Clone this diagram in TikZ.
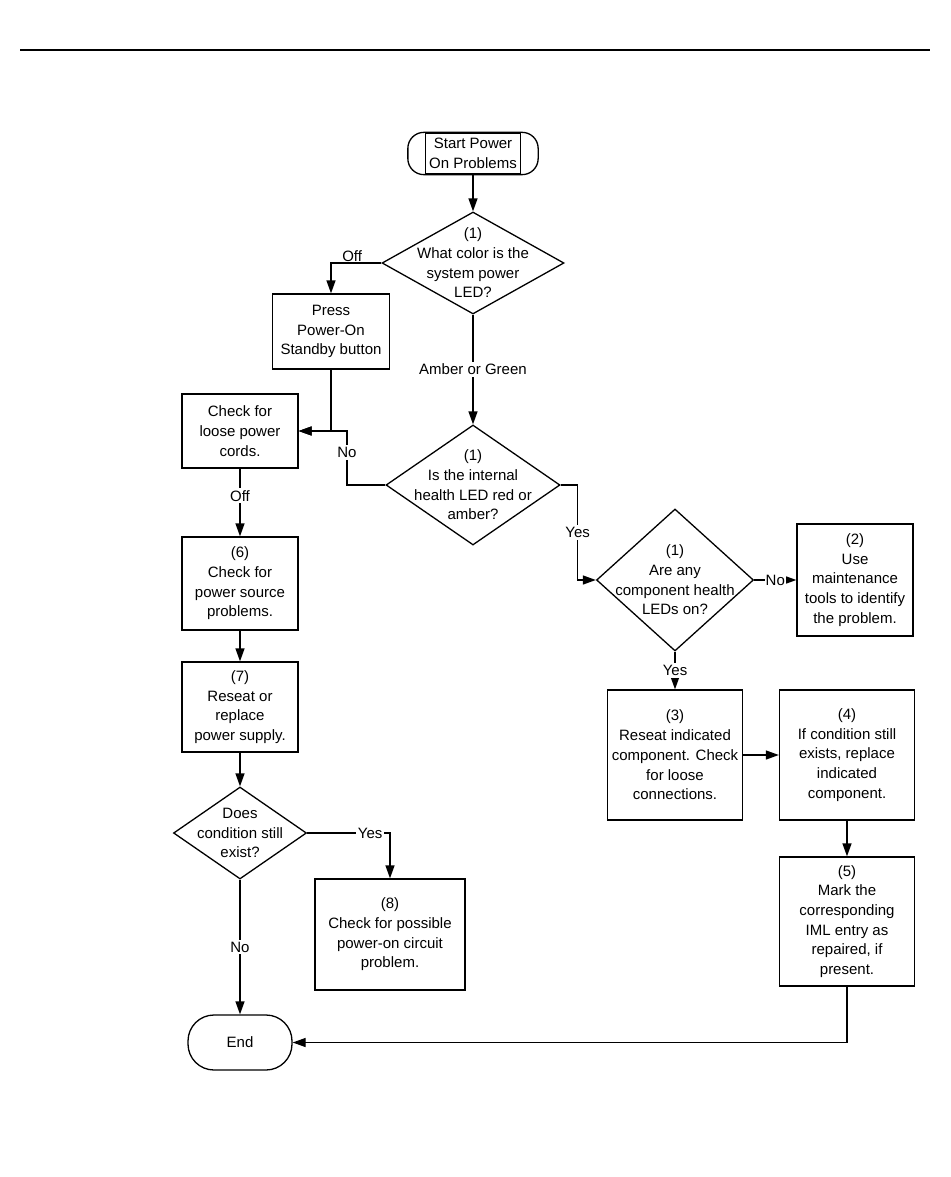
\documentclass[tikz,border=0pt]{standalone}
\usepackage{fontspec}
\setmainfont{Liberation Sans}
\usetikzlibrary{shapes.geometric,arrows.meta}

\begin{document}
\begin{tikzpicture}[x=1pt, y=-1pt,
		font=\fontsize{15}{19.7}\selectfont,
		box/.style={draw, line width=1.3pt, align=center, inner sep=0pt},
		decision/.style={draw, diamond, line width=1.3pt, inner sep=0pt},
		txt/.style={align=center},
		line/.style={line width=1.3pt},
		arr/.style={line width=1.3pt, -{Triangle[length=13pt,width=9pt]}},
		lbl/.style={fill=white, inner sep=2pt}]
		\useasboundingbox (0,0) rectangle (950,1177);
		\draw[line width=2pt] (20,50) -- (930,50);
		
		% start and first question
		\node[box, minimum width=95, minimum height=41] (start) at (473,153.5) {Start Power\\On Problems};
		\draw[line, rounded corners=16] ([xshift=-17]start.north west) rectangle ([xshift=17]start.south east);
		\node[decision, minimum width=182, minimum height=102,
			label={[txt]center:{(1)\\What color is the\\system power\\LED?}}] (q1) at (473,263) {};
		\node[box, minimum width=117, minimum height=75] (press) at (331,331.5) {Press\\Power-On\\Standby button};
		\node[decision, minimum width=174, minimum height=120,
			label={[txt]center:{(1)\\Is the internal\\health LED red or\\amber?}}] (q2) at (473,485) {};
		
		% left column
		\node[box, minimum width=116, minimum height=74] (cords) at (240,431) {Check for\\loose power\\cords.};
		\node[box, minimum width=116, minimum height=93] (source) at (240,583.5) {(6)\\Check for\\power source\\problems.};
		\node[box, minimum width=116, minimum height=90] (supply) at (240,707) {(7)\\Reseat or\\replace\\power supply.};
		\node[decision, minimum width=133, minimum height=92,
			label={[txt]center:{Does\\condition still\\exist?}}] (q4) at (240,833) {};
		\node[box, minimum width=150, minimum height=111] (circuit) at (390,934.5) {(8)\\Check for possible\\power-on circuit\\problem.};
		\node[draw, line, rounded corners=26, minimum width=104, minimum height=55] (end) at (240,1042.5) {End};
		
		% right column
		\node[decision, minimum width=157, minimum height=142,
			label={[txt]center:{(1)\\Are any\\component health\\LEDs on?}}] (q3) at (675,580) {};
		\node[box, minimum width=116, minimum height=112] (tools) at (855,580) {(2)\\Use\\maintenance\\tools to identify\\the problem.};
		\node[box, minimum width=135, minimum height=130] (reseat) at (675,755) {(3)\\Reseat indicated\\component. Check\\for loose\\connections.};
		\node[box, minimum width=135, minimum height=130] (replace) at (847,755) {(4)\\If condition still\\exists, replace\\indicated\\component.};
		\node[box, minimum width=135, minimum height=129] (mark) at (847,921.5) {(5)\\Mark the\\corresponding\\IML entry as\\repaired, if\\present.};
		
		\coordinate (nobend) at (347,431);
		
		% connectors
		\draw[arr] (start.south) -- (q1.north);
		\draw[arr] (q1.west) -| node[pos=0.29, above, inner sep=1pt] {Off} (press.north);
		\draw[arr] (q1.south) -- node[lbl] {Amber or Green} (q2.north);
		\draw[arr] (press.south) |- (cords.east);
		\draw[arr] (q2.west) -| node[pos=0.8, lbl] {No} (nobend) -- (cords.east);
		\draw[arr] (cords.south) -- node[lbl, pos=0.4] {Off} (source.north);
		\draw[arr] (source) -- (supply);
		\draw[arr] (supply) -- (q4);
		\draw[arr] (q4.east) -| node[pos=0.38, lbl] {Yes} (circuit.north);
		\draw[arr] (q4.south) -- node[lbl] {No} (end.north);
		\draw[arr] (q2.east) -- ++(17,0) |- node[pos=0.25, lbl] {Yes} (q3.west);
		\draw[arr] (q3.east) -- node[lbl, inner sep=1pt] {No} (tools.west);
		\draw[arr] (q3.south) -- node[lbl] {Yes} (reseat.north);
		\draw[arr] (reseat) -- (replace);
		\draw[arr] (replace) -- (mark);
		\draw[arr] (mark.south) |- (end.east);
	\end{tikzpicture}
\end{document}
